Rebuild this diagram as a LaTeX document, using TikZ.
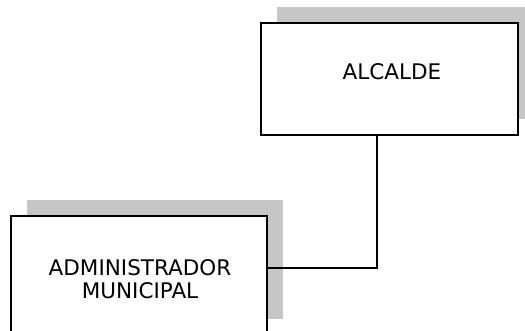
\documentclass[tikz,border=0pt]{standalone}
\usepackage{fontspec}
\setmainfont{DejaVu Sans}
\usetikzlibrary{shadows}

\tikzset{
  box/.style={draw, line width=2.2pt, fill=white, inner sep=0pt,
    drop shadow={shadow xshift=16pt, shadow yshift=16pt, fill=gray!45, opacity=1}},
  boxtext/.style={align=center, font=\fontsize{21.5pt}{23.5pt}\selectfont},
  link/.style={line width=1.4pt}
}

\begin{document}
\begin{tikzpicture}[x=1pt, y=-1pt]
\useasboundingbox (0, 0) rectangle (525, 331);
\clip (0, 0) rectangle (525, 331);

% Draw boxes.
\node[box, minimum width=257pt, minimum height=112pt] (alcalde) at (389.5, 79) {};
\node[boxtext] (alcaldetext) at (392, 72) {ALCALDE};

\node[box, minimum width=256pt, minimum height=119pt] (admin) at (139, 275.5) {};
\node[boxtext] (admintext) at (140, 279) {ADMINISTRADOR\\MUNICIPAL};

% Draw connector.
\coordinate (elbow) at (377, 268);
\draw[link] (alcalde.south -| elbow) -- (elbow) -- (admin.east |- elbow);

\end{tikzpicture}
\end{document}
